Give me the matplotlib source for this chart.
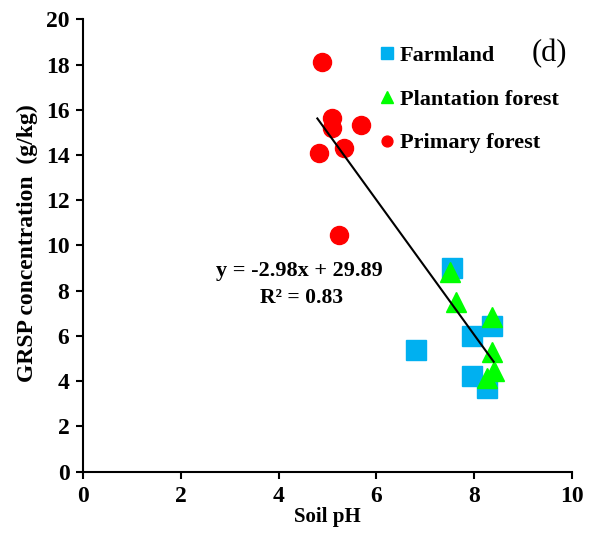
import numpy as np
import matplotlib
matplotlib.use("Agg")
import matplotlib.pyplot as plt

# data
farm_ph = [7.55, 8.36, 7.95, 6.80, 7.95, 8.27]
farm_grsp = [8.99, 6.44, 6.00, 5.38, 4.23, 3.69]

plant_ph = [7.50, 7.62, 8.36, 8.36, 8.40, 8.27]
plant_grsp = [8.84, 7.52, 6.85, 5.30, 4.47, 4.13]

prim_ph = [4.88, 5.09, 5.09, 5.68, 4.83, 5.34, 5.23]
prim_grsp = [18.13, 15.65, 15.18, 15.33, 14.10, 14.30, 10.46]

slope = -2.98
intercept = 29.89
r2 = 0.83

plt.rcParams['font.family'] = ['Liberation Serif', 'DejaVu Serif']
plt.rcParams['font.weight'] = 'bold'

fig = plt.figure(figsize=(5.89, 5.4), dpi=100)
ax = fig.add_axes([0.1414, 0.1265, 0.8296, 0.8378])

ax.plot(farm_ph, farm_grsp, 's', color='#00B0F0', markersize=14, label='Farmland', zorder=2)
ax.plot(plant_ph, plant_grsp, '^', color='#00FF00', markersize=15, label='Plantation forest', zorder=3)
ax.plot(prim_ph, prim_grsp, 'o', color='#FF0000', markersize=13, label='Primary forest', zorder=3)

all_x = np.array(farm_ph + plant_ph + prim_ph)
xs = np.array([all_x.min() - 0.04, all_x.max()])
ax.plot(xs, slope * xs + intercept, color='black', linewidth=1.5, zorder=4)

ax.text(4.42, 8.85, 'y = %.2fx + %.2f' % (slope, intercept), fontsize=16, fontweight='bold',
        ha='center', va='center')
ax.text(4.46, 7.66, 'R² = %.2f' % r2, fontsize=15.5, fontweight='bold', ha='center', va='center')
ax.text(9.54, 18.5, '(d)', fontsize=22, fontweight='normal', ha='center', va='center')

ax.set_xlim(0, 10)
ax.set_ylim(0, 20)
ax.set_xticks(np.arange(0, 11, 2))
ax.set_yticks(np.arange(0, 21, 2))
ax.tick_params(direction='out', length=5, width=1.5, labelsize=17, pad=5)
for lab in ax.get_xticklabels() + ax.get_yticklabels():
    lab.set_fontweight('bold')

ax.spines['top'].set_visible(False)
ax.spines['right'].set_visible(False)
ax.spines['left'].set_linewidth(1.5)
ax.spines['bottom'].set_linewidth(1.5)

ax.set_xlabel('Soil pH', fontsize=15, fontweight='bold', labelpad=0)
ax.set_ylabel('GRSP concentration  (g/kg)', fontsize=17, fontweight='bold')
ax.yaxis.set_label_coords(-0.093, 0.505)

leg = ax.legend(loc='upper left', bbox_to_anchor=(0.607, 0.943), frameon=False,
                borderaxespad=0, borderpad=0,
                markerscale=0.6, handlelength=0.6, handletextpad=0.3,
                labelspacing=1.05, prop={'size': 16, 'weight': 'bold'})

fig.savefig('out.png', dpi=100)
